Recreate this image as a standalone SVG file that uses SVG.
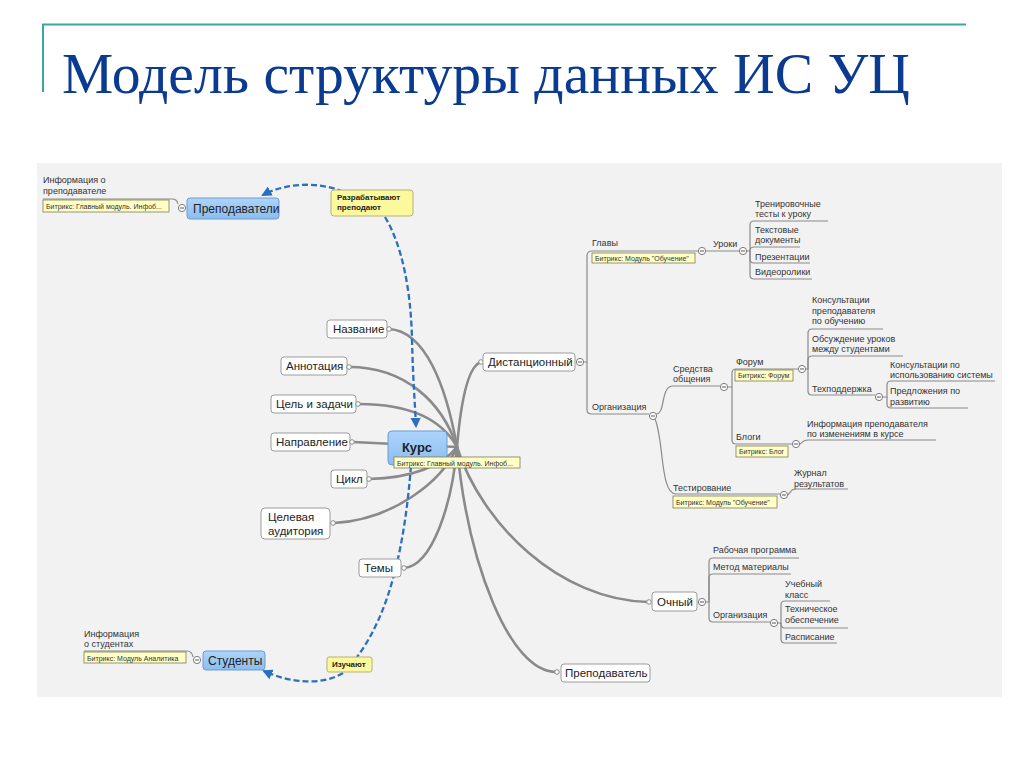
<svg xmlns="http://www.w3.org/2000/svg" width="1024" height="768" viewBox="0 0 1024 768">
<defs>
<style>
.sans{font-family:"Liberation Sans",Arial,sans-serif;fill:#222}
.t12{font-size:12px}
.t11{font-size:11.5px}
.t9{font-size:9px;fill:#333}
.t7{font-size:7px;fill:#333}
.b8{font-size:8px;font-weight:bold;fill:#222}
.lnk{fill:none;stroke:#8a8a8a;stroke-width:2.6;stroke-linecap:round}
.sub{fill:none;stroke:#8a8a8a;stroke-width:1.2}
.dash{fill:none;stroke:#2b6fbf;stroke-width:2.3;stroke-dasharray:6 3}
.box{fill:#fff;stroke:#9c9c9c;stroke-width:1}
.blue{fill:url(#gb);stroke:#6d9dcf;stroke-width:1}
.tag{fill:#fbf99b;stroke:#b4b27a;stroke-width:1}
.note{fill:#ffffc6;stroke:#7d7d55;stroke-width:0.8}
.dot{fill:#fff;stroke:#8a8a8a;stroke-width:1}
.col{fill:#fff;stroke:#7a7a7a;stroke-width:1}
.minus{stroke:#555;stroke-width:1}
</style>
<linearGradient id="gb" x1="0" y1="0" x2="0" y2="1">
<stop offset="0" stop-color="#acd4fb"/>
<stop offset="1" stop-color="#8bbdf0"/>
</linearGradient>
<marker id="arr" viewBox="0 0 10 10" refX="8" refY="5" markerWidth="4.5" markerHeight="4.5" orient="auto" markerUnits="strokeWidth">
<path d="M0,0 L10,5 L0,10 z" fill="#2b6fbf"/>
</marker>
<symbol id="c" overflow="visible"><circle r="3.6" class="col"/><line x1="-2" y1="0" x2="2" y2="0" class="minus"/></symbol>
</defs>

<!-- title -->
<g id="title">
<line x1="42" y1="24.5" x2="966" y2="24.5" stroke="#3aa6a0" stroke-width="2"/>
<line x1="43" y1="24" x2="43" y2="92" stroke="#3aa6a0" stroke-width="2"/>
<text x="62" y="93" font-family="Liberation Serif,'Times New Roman',serif" font-size="58" fill="#0b3a91" textLength="848" lengthAdjust="spacingAndGlyphs">Модель структуры данных ИС УЦ</text>
</g>

<rect x="37" y="163" width="965" height="534" fill="#f2f2f2"/>

<g id="connectors">
<path class="lnk" d="M389,329 C425,331 446,385 457,447"/>
<path class="lnk" d="M349,367 C405,367 442,402 457,447"/>
<path class="lnk" d="M359,404 C412,404 442,420 457,447"/>
<path class="lnk" d="M353,442 L457,447"/>
<path class="lnk" d="M369,479 C412,478 442,466 457,447"/>
<path class="lnk" d="M334,523 C392,520 442,482 457,447"/>
<path class="lnk" d="M404,568 C432,566 452,505 457,447"/>
<path class="lnk" d="M481,362 C468,366 461,400 457,447"/>
<path class="lnk" d="M648,602 C560,600 482,525 457,447"/>
<path class="lnk" d="M556,672 C510,672 468,565 457,447"/>

<path class="sub" d="M584,362 H587 V256 Q587,251 592,251 H698"/>
<path class="sub" d="M587,362 V410 Q587,414 592,414 H649"/>
<path class="sub" d="M706,251 H739"/>
<path class="sub" d="M747,251 H750 V225 Q750,221 754,221 H828"/>
<path class="sub" d="M750,251 Q750,247 754,247 H800"/>
<path class="sub" d="M750,251 V259 Q750,263 754,263 H810"/>
<path class="sub" d="M750,251 V275 Q750,279 754,279 H812"/>
<path class="sub" d="M656,414 C666,414 660,386 673,386 H720"/>
<path class="sub" d="M655,419 C664,440 660,494 676,494 H780"/>
<path class="sub" d="M728,387 H732 V373 Q732,369 736,369 H798"/>
<path class="sub" d="M732,387 V440 Q732,444 736,444 H792"/>
<path class="sub" d="M806,369 H808 V333 Q808,329 812,329 H883"/>
<path class="sub" d="M808,369 V360 Q808,356 812,356 H903"/>
<path class="sub" d="M808,369 V391 Q808,395 812,395 H875"/>
<path class="sub" d="M883,397 H887 V385 Q887,381 891,381 H995"/>
<path class="sub" d="M887,397 V404 Q887,408 891,408 H968"/>
<path class="sub" d="M800,444 C804,441 803,440 808,440 H936"/>
<path class="sub" d="M788,495 C792,490 792,489 797,489 H848"/>
<path class="sub" d="M706,602 H709 V562 Q709,558 713,558 H799"/>
<path class="sub" d="M709,602 V578 Q709,574 713,574 H791"/>
<path class="sub" d="M709,602 V618 Q709,622 713,622 H770"/>
<path class="sub" d="M778,623 H781 V605 Q781,601 785,601 H830"/>
<path class="sub" d="M781,623 V624 Q781,628 785,628 H848"/>
<path class="sub" d="M781,623 V639 Q781,643 785,643 H837"/>
<path class="sub" d="M43,199 H172 Q177,199 178,204"/>
<path class="sub" d="M84,651 H187 Q192,651 193,657"/>

<path class="dash" d="M343,192 C320,181 285,183 263,195" marker-end="url(#arr)"/>
<path class="dash" d="M385,217 C402,245 411,290 412,340 C413,380 415,405 416,426" marker-end="url(#arr)"/>
<path class="dash" d="M411,466 C405,540 392,610 357,657"/>
<path class="dash" d="M343,673 C322,686 290,683 264,671" marker-end="url(#arr)"/>
</g>

<!-- left side -->
<g id="n-prepodavateli">
<text class="sans t9" x="43" y="183">Информация о</text>
<text class="sans t9" x="43" y="194">преподавателе</text>
<rect class="note" x="43" y="200" width="126" height="12"/>
<text class="sans t7" x="46" y="209">Битрикс: Главный модуль. Инфоб...</text>
<use href="#c" x="182" y="208"/>
<rect class="blue" x="187" y="198" width="92" height="21" rx="3"/>
<text class="sans t12" x="193" y="213">Преподаватели</text>
</g>

<g id="n-razrab">
<rect class="tag" x="331" y="190" width="82" height="26" rx="3"/>
<text class="sans b8" x="337" y="200">Разрабатывают</text>
<text class="sans b8" x="337" y="210">преподают</text>
</g>

<g id="n-nazvanie">
<rect class="box" x="327" y="320" width="60" height="18" rx="3"/>
<text class="sans t11" x="333" y="333">Название</text>
<circle class="dot" cx="389" cy="329" r="2.3"/>
</g>
<g id="n-annot">
<rect class="box" x="281" y="357" width="66" height="18" rx="3"/>
<text class="sans t11" x="286" y="370">Аннотация</text>
<circle class="dot" cx="349" cy="367" r="2.3"/>
</g>
<g id="n-cel">
<rect class="box" x="271" y="395" width="85" height="18" rx="3"/>
<text class="sans t11" x="276" y="408">Цель и задачи</text>
<circle class="dot" cx="358" cy="404" r="2.3"/>
</g>
<g id="n-napr">
<rect class="box" x="271" y="433" width="79" height="18" rx="3"/>
<text class="sans t11" x="276" y="446">Направление</text>
<circle class="dot" cx="352" cy="442" r="2.3"/>
</g>
<g id="n-cikl">
<rect class="box" x="331" y="470" width="36" height="18" rx="3"/>
<text class="sans t11" x="336" y="483">Цикл</text>
<circle class="dot" cx="369" cy="479" r="2.3"/>
</g>
<g id="n-celevaya">
<rect class="box" x="261" y="508" width="69" height="31" rx="4"/>
<text class="sans t11" x="268" y="521">Целевая</text>
<text class="sans t11" x="268" y="535">аудитория</text>
<circle class="dot" cx="333" cy="523" r="2.3"/>
</g>
<g id="n-temy">
<rect class="box" x="359" y="559" width="42" height="18" rx="3"/>
<text class="sans t11" x="364" y="572">Темы</text>
<circle class="dot" cx="404" cy="568" r="2.3"/>
</g>

<g id="n-kurs">
<rect class="blue" x="388" y="431" width="59" height="34" rx="4"/>
<text class="sans" x="417" y="452" font-size="13" font-weight="bold" fill="#233d66" text-anchor="middle">Курс</text>
<rect class="note" x="394" y="457" width="126" height="11"/>
<text class="sans t7" x="397" y="465.5">Битрикс: Главный модуль. Инфоб...</text>
</g>

<g id="n-studenty">
<text class="sans t9" x="84" y="637">Информация</text>
<text class="sans t9" x="84" y="647">о студентах</text>
<rect class="note" x="84" y="652" width="102" height="11"/>
<text class="sans t7" x="87" y="660.5">Битрикс: Модуль Аналитика</text>
<use href="#c" x="197" y="660"/>
<rect class="blue" x="203" y="651" width="62" height="19" rx="3"/>
<text class="sans t12" x="208" y="665">Студенты</text>
</g>

<g id="n-izuchayut">
<rect class="tag" x="327" y="657" width="45" height="15" rx="2"/>
<text class="sans b8" x="332" y="667">Изучают</text>
</g>

<!-- right side -->
<g id="n-dist">
<circle class="dot" cx="481" cy="362" r="2.3"/>
<rect class="box" x="483" y="353" width="92" height="18" rx="3"/>
<text class="sans t11" x="488" y="366">Дистанционный</text>
<use href="#c" x="580" y="362"/>
</g>
<g id="n-glavy">
<text class="sans t9" x="592" y="246">Главы</text>
<rect class="note" x="592" y="253" width="103" height="10"/>
<text class="sans t7" x="595" y="260.5">Битрикс: Модуль "Обучение"</text>
<use href="#c" x="702" y="251"/>
</g>
<g id="n-uroki">
<text class="sans t9" x="713" y="247">Уроки</text>
<use href="#c" x="743" y="251"/>
</g>
<g id="n-trenir"><text class="sans t9" x="755" y="207">Тренировочные</text><text class="sans t9" x="755" y="217">тесты к уроку</text></g>
<g id="n-tekst"><text class="sans t9" x="755" y="233">Текстовые</text><text class="sans t9" x="755" y="243">документы</text></g>
<g id="n-prez"><text class="sans t9" x="755" y="260">Презентации</text></g>
<g id="n-video"><text class="sans t9" x="755" y="275">Видеоролики</text></g>

<g id="n-org1">
<text class="sans t9" x="592" y="410">Организация</text>
<use href="#c" x="653" y="416"/>
</g>
<g id="n-sredstva">
<text class="sans t9" x="673" y="372">Средства</text>
<text class="sans t9" x="673" y="382">общения</text>
<use href="#c" x="724" y="387"/>
</g>
<g id="n-forum">
<text class="sans t9" x="736" y="365">Форум</text>
<rect class="note" x="735" y="370" width="58" height="11"/>
<text class="sans t7" x="738" y="378">Битрикс: Форум</text>
<use href="#c" x="802" y="369"/>
</g>
<g id="n-konsult"><text class="sans t9" x="812" y="303">Консультации</text><text class="sans t9" x="812" y="314">преподавателя</text><text class="sans t9" x="812" y="324">по обучению</text></g>
<g id="n-obsuzh"><text class="sans t9" x="812" y="342">Обсуждение уроков</text><text class="sans t9" x="812" y="352">между студентами</text></g>
<g id="n-tech">
<text class="sans t9" x="812" y="392">Техподдержка</text>
<use href="#c" x="879" y="397"/>
</g>
<g id="n-konsult2"><text class="sans t9" x="890" y="368">Консультации по</text><text class="sans t9" x="890" y="378">использованию системы</text></g>
<g id="n-predl"><text class="sans t9" x="890" y="394">Предложения по</text><text class="sans t9" x="890" y="405">развитию</text></g>
<g id="n-blogi">
<text class="sans t9" x="736" y="440">Блоги</text>
<rect class="note" x="736" y="446" width="52" height="11"/>
<text class="sans t7" x="739" y="454">Битрикс: Блог</text>
<use href="#c" x="796" y="444"/>
</g>
<g id="n-infoprep"><text class="sans t9" x="807" y="427">Информация преподавателя</text><text class="sans t9" x="807" y="437">по изменениям в курсе</text></g>
<g id="n-test">
<text class="sans t9" x="673" y="491">Тестирование</text>
<rect class="note" x="673" y="496" width="104" height="12"/>
<text class="sans t7" x="676" y="504.5">Битрикс: Модуль "Обучение"</text>
<use href="#c" x="784" y="495"/>
</g>
<g id="n-zhurnal"><text class="sans t9" x="794" y="476">Журнал</text><text class="sans t9" x="794" y="487">результатов</text></g>

<g id="n-ochny">
<circle class="dot" cx="649" cy="602" r="2.3"/>
<rect class="box" x="652" y="592" width="45" height="19" rx="3"/>
<text class="sans t11" x="657" y="606">Очный</text>
<use href="#c" x="702" y="602"/>
</g>
<g id="n-rabprog"><text class="sans t9" x="713" y="553">Рабочая программа</text></g>
<g id="n-metod"><text class="sans t9" x="713" y="570">Метод материалы</text></g>
<g id="n-org2">
<text class="sans t9" x="713" y="618">Организация</text>
<use href="#c" x="774" y="623"/>
</g>
<g id="n-klass"><text class="sans t9" x="785" y="587">Учебный</text><text class="sans t9" x="785" y="598">класс</text></g>
<g id="n-techobesp"><text class="sans t9" x="785" y="612">Техническое</text><text class="sans t9" x="785" y="623">обеспечение</text></g>
<g id="n-raspis"><text class="sans t9" x="785" y="640">Расписание</text></g>

<g id="n-prepodavatel">
<circle class="dot" cx="557" cy="672" r="2.3"/>
<rect class="box" x="561" y="664" width="89" height="18" rx="3"/>
<text class="sans t11" x="565" y="677">Преподаватель</text>
</g>
</svg>
